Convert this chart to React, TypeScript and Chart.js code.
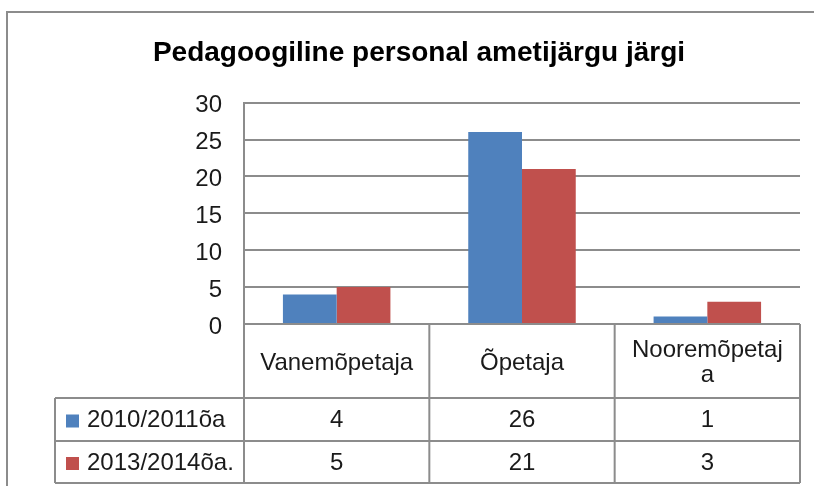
import React, { useEffect, useRef } from 'react';
import { Chart, registerables } from 'chart.js';

Chart.register(...registerables);

const TITLE = 'Pedagoogiline personal ametijärgu järgi';
const categories = ['Vanemõpetaja', 'Õpetaja', 'Nooremõpetaja'];
const categoryLabelLines = [['Vanemõpetaja'], ['Õpetaja'], ['Nooremõpetaj', 'a']];
const seriesNames = ['2010/2011õa', '2013/2014õa.'];
const series2010 = [4, 26, 1];
const series2013 = [5, 21, 3];
const seriesColors = ['#4F81BD', '#C0504D'];
const yMin = 0;
const yMax = 30;
const yStep = 5;

const FONT = '"Liberation Sans", Arial, sans-serif';
const LINE = '#8c8c8c';
const TEXT = '#1a1a1a';

const tablePlugin = {
  id: 'dataTable',
  beforeDraw(chart: any) {
    const ctx = chart.ctx;
    ctx.save();
    ctx.fillStyle = '#ffffff';
    ctx.fillRect(0, 0, chart.width, chart.height);
    ctx.strokeStyle = LINE;
    ctx.lineWidth = 2;
    ctx.beginPath();
    ctx.moveTo(7, chart.height + 2);
    ctx.lineTo(7, 12);
    ctx.lineTo(chart.width + 2, 12);
    ctx.stroke();
    ctx.restore();
  },
  afterDraw(chart: any) {
    const ctx = chart.ctx;
    const xs = chart.scales.x;
    const area = chart.chartArea;
    const n = categories.length;
    const step = xs.getPixelForValue(1) - xs.getPixelForValue(0);
    const edges: number[] = [];
    for (let i = 0; i < n; i++) edges.push(xs.getPixelForValue(i) - step / 2);
    edges.push(xs.getPixelForValue(n - 1) + step / 2);
    const top = area.bottom;
    const headerBottom = top + 74;
    const row1Bottom = headerBottom + 43;
    const row2Bottom = row1Bottom + 42;
    const legendLeft = 55;
    const rows = [headerBottom, row1Bottom, row2Bottom];
    const rowData = [series2010, series2013];

    ctx.save();
    ctx.strokeStyle = LINE;
    ctx.lineWidth = 2;
    ctx.beginPath();
    edges.forEach((x) => {
      ctx.moveTo(x, top);
      ctx.lineTo(x, row2Bottom);
    });
    ctx.moveTo(legendLeft, headerBottom);
    ctx.lineTo(legendLeft, row2Bottom);
    ctx.moveTo(edges[0], top);
    ctx.lineTo(edges[n], top);
    rows.forEach((y) => {
      ctx.moveTo(legendLeft, y);
      ctx.lineTo(edges[n], y);
    });
    ctx.stroke();

    ctx.fillStyle = TEXT;
    ctx.font = `24px ${FONT}`;
    ctx.textAlign = 'center';
    ctx.textBaseline = 'middle';
    categoryLabelLines.forEach((lines, i) => {
      const cx = xs.getPixelForValue(i);
      const cy = (top + headerBottom) / 2 + 2;
      const lh = 25;
      const startY = cy - ((lines.length - 1) * lh) / 2;
      lines.forEach((t, j) => ctx.fillText(t, cx, startY + j * lh));
    });
    rowData.forEach((vals, r) => {
      const yTop = r === 0 ? headerBottom : row1Bottom;
      const yBot = r === 0 ? row1Bottom : row2Bottom;
      const cy = (yTop + yBot) / 2 + 1;
      vals.forEach((v, i) => {
        ctx.fillStyle = TEXT;
        ctx.textAlign = 'center';
        ctx.fillText(String(v), xs.getPixelForValue(i), cy);
      });
      ctx.fillStyle = seriesColors[r];
      ctx.fillRect(66, cy - 6, 13, 13);
      ctx.fillStyle = TEXT;
      ctx.textAlign = 'left';
      ctx.fillText(seriesNames[r], 87, cy);
    });
    ctx.restore();
  },
};

export default function App() {
  const ref = useRef<HTMLCanvasElement | null>(null);
  useEffect(() => {
    document.body.style.margin = '0';
    const canvas = ref.current;
    if (!canvas) return;
    const chart = new Chart(canvas, {
      type: 'bar',
      data: {
        labels: categories,
        datasets: [
          {
            label: seriesNames[0],
            data: series2010,
            backgroundColor: seriesColors[0],
            categoryPercentage: 0.58,
            barPercentage: 1,
          },
          {
            label: seriesNames[1],
            data: series2013,
            backgroundColor: seriesColors[1],
            categoryPercentage: 0.58,
            barPercentage: 1,
          },
        ],
      },
      options: {
        responsive: false,
        animation: false,
        devicePixelRatio: 1,
        layout: { padding: { left: 38, right: 14, top: 0, bottom: 0 } },
        plugins: {
          legend: { display: false },
          tooltip: { enabled: false },
          title: {
            display: true,
            text: TITLE,
            color: '#000000',
            font: { family: FONT, size: 28, weight: 'bold' },
            padding: { top: 36, bottom: 33 },
          },
        },
        scales: {
          x: {
            ticks: { display: false },
            grid: { display: false },
            border: { display: false },
            afterFit: (s: any) => {
              s.height = 162;
            },
          },
          y: {
            min: yMin,
            max: yMax,
            ticks: {
              stepSize: yStep,
              padding: 22,
              labelOffset: 3,
              color: TEXT,
              font: { family: FONT, size: 24 },
            },
            grid: { color: LINE, lineWidth: 2, drawTicks: false },
            border: { display: true, color: LINE, width: 2 },
            afterFit: (s: any) => {
              s.width = 206;
            },
          },
        },
      },
      plugins: [tablePlugin],
    });
    return () => chart.destroy();
  }, []);
  return (
    <div style={{ position: 'absolute', left: 0, top: 0, width: 814, height: 486 }}>
      <canvas ref={ref} width={814} height={486} style={{ display: 'block', width: 814, height: 486 }} />
    </div>
  );
}
